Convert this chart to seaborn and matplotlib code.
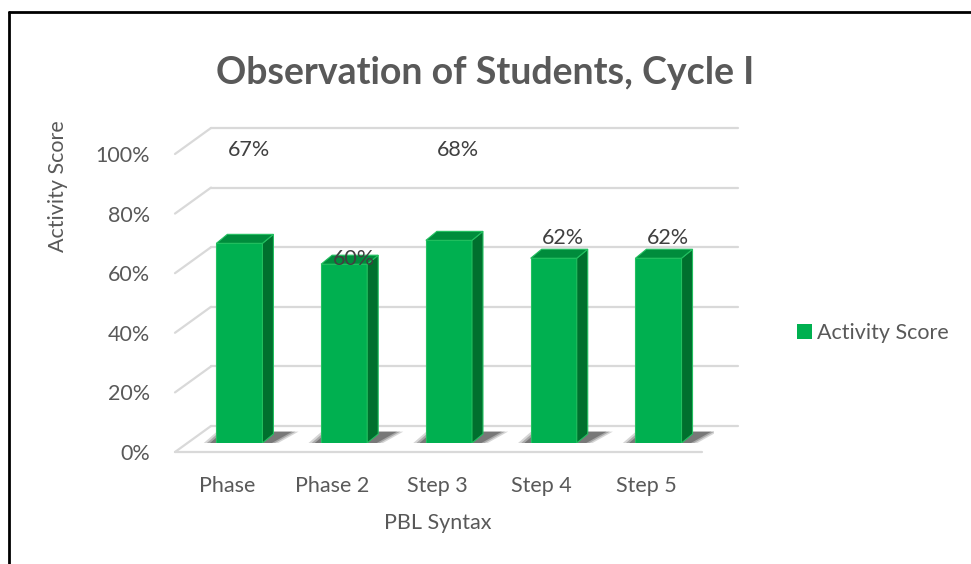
import matplotlib
matplotlib.use("Agg")
import matplotlib.pyplot as plt
import matplotlib.transforms as mtransforms
from matplotlib.patches import Polygon, Patch
from matplotlib.lines import Line2D
import seaborn as sns

# dati
phases = ["Phase", "Phase 2", "Step 3", "Step 4", "Step 5"]
scores = [0.67, 0.60, 0.68, 0.62, 0.62]
score_labels = ["67%", "60%", "68%", "62%", "62%"]
y_ticks = [0, 0.2, 0.4, 0.6, 0.8, 1.0]
y_tick_labels = ["0%", "20%", "40%", "60%", "80%", "100%"]

# dove Excel ha messo le etichette (in unita' dell'asse y)
label_y = [0.983, 0.617, 0.983, 0.688, 0.688]

sns.set_theme(style="white")
plt.rcParams["font.family"] = ["Lato", "DejaVu Sans"]

TXT = "#595959"
GRID = "#D9D9D9"
FRONT = "#00B050"
SIDE = "#00702E"
TOP = "#008C3C"
FS = 15.5

W, H = 971, 564
fig = plt.figure(figsize=(W / 100, H / 100), dpi=100)
ax = fig.add_axes([187 / W, 121 / H, 527 / W, 298 / H])

sns.barplot(x=phases, y=scores, color=FRONT, width=0.44, ax=ax,
            saturation=1, edgecolor="#22C060", linewidth=0.8, zorder=3)

xl, xr = -0.5, 4.53
ax.set_xlim(xl, xr)
ax.set_ylim(0, 1)

# conversione pixel -> unita' dati
px_x = (xr - xl) / 527
px_y = 1 / 298

# profondita' delle barre e dei piani
bdx, bdy = 11 * px_x, 9 * px_y
back_dx, back_dy = 24 * px_x, 17 * px_y
front_dx, front_dy = -12 * px_x, -9 * px_y

# griglia 3D
for t in y_ticks:
    ax.plot([xl + back_dx, xr + back_dx], [t + back_dy] * 2, color=GRID,
            lw=1.6, zorder=1, clip_on=False)
    ax.plot([xl + front_dx, xl + back_dx], [t + front_dy, t + back_dy],
            color=GRID, lw=1.6, zorder=1, clip_on=False)
ax.plot([xl + front_dx, xr + front_dx], [front_dy] * 2, color=GRID,
        lw=1.6, zorder=1, clip_on=False)

# facce laterali, superiori e ombre
for p in ax.patches:
    x0 = p.get_x()
    x1 = x0 + p.get_width()
    h = p.get_height()
    for k, a in enumerate([0.18, 0.25, 0.35]):
        g = (2 - k) * 0.03
        shadow = Polygon([(x0 - 0.08 - g, -0.006), (x1 + 0.06 + g, -0.006),
                          (x1 + bdx + 0.18 + g, bdy + 0.008),
                          (x0 + bdx - 0.04 - g, bdy + 0.008)],
                         closed=True, facecolor="#202020", alpha=a,
                         edgecolor="none", zorder=2)
        ax.add_patch(shadow)
    side = Polygon([(x1, 0), (x1, h), (x1 + bdx, h + bdy), (x1 + bdx, bdy)],
                   closed=True, facecolor=SIDE, edgecolor="#22C060",
                   lw=0.8, zorder=3)
    ax.add_patch(side)
    top = Polygon([(x0, h), (x1, h), (x1 + bdx, h + bdy), (x0 + bdx, h + bdy)],
                  closed=True, facecolor=TOP, edgecolor="#22C060",
                  lw=0.8, zorder=3)
    ax.add_patch(top)

# etichette dei valori
for i, (lab, ly) in enumerate(zip(score_labels, label_y)):
    ax.text(i + 0.09, ly, lab, ha="center", va="center", fontsize=FS,
            color="#404040", zorder=5, clip_on=False)

ax.set_yticks(y_ticks)
ax.set_yticklabels(y_tick_labels)
ax.tick_params(axis="y", length=0, pad=26.6, labelsize=FS, labelcolor=TXT)
ax.tick_params(axis="x", length=0, pad=23.5, labelsize=FS, labelcolor=TXT)
ax.set_xlabel("")
ax.set_ylabel("")
for s in ax.spines.values():
    s.set_visible(False)
ax.grid(False)

shift_y = mtransforms.ScaledTranslation(0, -9 / 100, fig.dpi_scale_trans)
for lab in ax.get_yticklabels():
    lab.set_transform(lab.get_transform() + shift_y)
shift_x = mtransforms.ScaledTranslation(-12 / 100, 0, fig.dpi_scale_trans)
for lab in ax.get_xticklabels():
    lab.set_transform(lab.get_transform() + shift_x)

# titoli
fig.text(485 / W, 1 - 73 / H, "Observation of Students, Cycle I",
         ha="center", va="center", fontsize=27, fontweight="bold", color=TXT)
fig.text(58 / W, 1 - 186 / H, "Activity Score", rotation=90, ha="center",
         va="center", fontsize=FS, color=TXT)
fig.text(438 / W, 1 - 523 / H, "PBL Syntax", ha="center", va="center",
         fontsize=FS, color=TXT)

# legenda
handle = Patch(facecolor=FRONT, edgecolor="none")
fig.legend([handle], ["Activity Score"], loc="center left",
           bbox_to_anchor=(797 / W, 1 - 333 / H), frameon=False,
           fontsize=FS, labelcolor=TXT, handlelength=0.7, handleheight=0.7,
           handletextpad=0.25, borderpad=0, borderaxespad=0)

# cornice
fig.add_artist(Line2D([9 / W, 9 / W], [0, 1 - 12 / H], color="black", lw=2))
fig.add_artist(Line2D([9 / W, 1], [1 - 12 / H, 1 - 12 / H], color="black", lw=2))

plt.savefig("out.png", dpi=100)
